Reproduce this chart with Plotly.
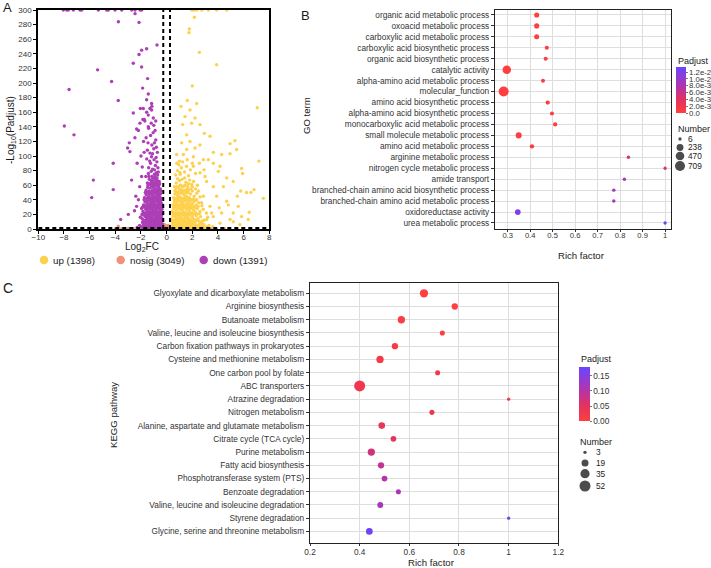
import math
import plotly.graph_objects as go

W, H = 711, 568

# ---------------- Panel A: volcano data ----------------
DOWN_PTS = [
    (-8.05, 300), (-7.79, 300), (-7.66, 300), (-7.27, 300), (-6.75, 300), (-6.62, 300), (-5.32, 300),
    (-4.67, 300), (-4.54, 300), (-4.02, 300), (-3.5, 300), (-2.72, 300), (-2.46, 300), (-2.07, 300),
    (-1.94, 300), (-2.46, 295), (-3.76, 284), (-2.15, 283),
    (-0.75, 252), (-1.56, 247), (-1.95, 245), (-2.15, 239), (-2.6, 227), (-1.95, 222), (-5.38, 218),
    (-1.48, 206), (-4.29, 202), (-1.87, 193), (-7.6, 191), (-1.43, 185), (-1.56, 177), (-3.77, 176),
    (-1.17, 172), (-1.82, 165), (-1.17, 163), (-2.6, 159), (-1.43, 156), (-1.74, 150), (-1.04, 152),
    (-2.08, 145), (-7.97, 141), (-1.43, 140), (-2.34, 137), (-7.22, 129), (-2.47, 125), (-2.91, 118),
    (-3.04, 111), (-2.86, 106), (-4.16, 90), (-5.71, 67), (-2.73, 67), (-4.16, 54), (-5.84, 43),
    (-2.34, 31), (-2.99, 20), (-3.58, 13),
    (-1.95, 3), (-1.8, 6), (-1.7, 2), (-1.62, 8), (-1.55, 4), (-1.48, 9), (-1.4, 2), (-1.33, 6),
    (-1.27, 3), (-1.2, 9), (-1.12, 5), (-1.05, 2), (-0.98, 7), (-0.92, 4), (-0.85, 9), (-0.78, 3),
    (-0.72, 6), (-0.65, 2), (-0.58, 8), (-0.52, 4), (-0.45, 6), (-0.38, 3), (-0.33, 7), (-2.1, 5),
    (-2.3, 2), (-1.88, 9),
    (-1.88, 1), (-1.76, 4), (-1.66, 5), (-1.58, 1), (-1.44, 5), (-1.37, 1), (-1.3, 9), (-1.23, 1),
    (-1.16, 6), (-1.09, 3), (-1.01, 5), (-0.95, 1), (-0.88, 6), (-0.82, 1), (-0.75, 8), (-0.68, 4),
    (-0.62, 1), (-0.55, 6), (-0.48, 1), (-0.42, 4), (-0.36, 1),
    (-1.9, 14), (-1.78, 12), (-1.66, 17), (-1.58, 13), (-1.5, 19), (-1.42, 15), (-1.35, 11),
    (-1.28, 18), (-1.21, 13), (-1.14, 16), (-1.07, 12), (-1.0, 19), (-0.93, 14), (-0.86, 17),
    (-0.79, 11), (-0.72, 15), (-0.66, 19), (-0.59, 13), (-0.53, 16), (-0.47, 12), (-0.41, 18),
    (-0.35, 14), (-2.05, 16),
    (-1.84, 10), (-1.72, 11), (-1.6, 10), (-1.45, 12), (-1.32, 15), (-1.25, 10), (-1.18, 11),
    (-1.1, 14), (-1.03, 10), (-0.96, 12), (-0.89, 10), (-0.82, 14), (-0.76, 12), (-0.69, 10),
    (-0.62, 12), (-0.56, 10), (-0.5, 14), (-0.44, 10), (-0.38, 11),
    (-1.85, 24), (-1.74, 22), (-1.63, 27), (-1.55, 23), (-1.47, 29), (-1.39, 25), (-1.31, 21),
    (-1.24, 28), (-1.16, 24), (-1.09, 26), (-1.02, 22), (-0.95, 29), (-0.88, 25), (-0.81, 21),
    (-0.74, 27), (-0.67, 23), (-0.6, 28), (-0.54, 24), (-0.47, 26), (-0.41, 22), (-0.36, 27),
    (-1.95, 28),
    (-1.92, 20), (-1.8, 19), (-1.7, 20), (-1.6, 20), (-1.52, 16), (-1.44, 21), (-1.37, 18),
    (-1.3, 23), (-1.2, 20), (-1.12, 19), (-1.05, 24), (-0.98, 20), (-0.9, 22), (-0.84, 19),
    (-0.77, 23), (-0.7, 20), (-0.63, 17), (-0.57, 21), (-0.5, 19), (-0.44, 23), (-0.38, 20),
    (-1.8, 33), (-1.68, 37), (-1.58, 31), (-1.5, 35), (-1.42, 39), (-1.34, 32), (-1.26, 36),
    (-1.18, 34), (-1.1, 38), (-1.03, 31), (-0.96, 35), (-0.89, 39), (-0.82, 33), (-0.75, 37),
    (-0.68, 31), (-0.62, 36), (-0.55, 33), (-0.49, 38), (-0.43, 34), (-0.38, 31),
    (-1.88, 30), (-1.76, 30), (-1.65, 32), (-1.54, 27), (-1.45, 32), (-1.37, 29), (-1.29, 33),
    (-1.21, 30), (-1.13, 31), (-1.06, 29), (-0.99, 33), (-0.92, 31), (-0.85, 28), (-0.78, 32),
    (-0.71, 29), (-0.65, 33), (-0.58, 30), (-0.52, 32), (-0.45, 29), (-0.4, 35),
    (-1.72, 43), (-1.6, 47), (-1.5, 41), (-1.4, 45), (-1.3, 49), (-1.22, 43), (-1.14, 47),
    (-1.06, 41), (-0.98, 45), (-0.9, 49), (-0.83, 43), (-0.76, 47), (-0.69, 42), (-0.62, 46),
    (-0.55, 44), (-0.48, 48), (-0.42, 42),
    (-1.76, 40), (-1.65, 42), (-1.55, 38), (-1.46, 43), (-1.37, 40), (-1.27, 42), (-1.18, 39),
    (-1.1, 43), (-1.02, 38), (-0.94, 42), (-0.86, 40), (-0.79, 44), (-0.72, 39), (-0.66, 41),
    (-0.59, 39), (-0.52, 43), (-0.46, 40),
    (-1.6, 53), (-1.48, 57), (-1.38, 52), (-1.28, 56), (-1.19, 59), (-1.1, 53), (-1.02, 57),
    (-0.94, 51), (-0.86, 55), (-0.78, 59), (-0.7, 53), (-0.63, 57), (-0.56, 52), (-0.49, 55),
    (-1.66, 50), (-1.55, 50), (-1.44, 49), (-1.34, 51), (-1.24, 48), (-1.15, 51), (-1.06, 49),
    (-0.98, 52), (-0.9, 50), (-0.82, 52), (-0.74, 50), (-0.66, 50), (-0.6, 49), (-0.52, 50),
    (-0.45, 52),
    (-1.5, 63), (-1.35, 68), (-1.25, 62), (-1.15, 72), (-1.05, 66), (-0.95, 75), (-0.85, 64),
    (-0.75, 70), (-0.65, 78), (-0.58, 65), (-1.42, 76), (-1.2, 79), (-0.9, 69), (-1.0, 62),
    (-0.7, 62), (-1.62, 72), (-1.1, 60), (-0.8, 77),
    (-1.45, 60), (-1.3, 62), (-1.2, 66), (-1.08, 64), (-0.98, 60), (-0.88, 62), (-0.8, 66),
    (-0.72, 66), (-0.62, 60), (-0.55, 62), (-1.38, 72), (-1.1, 70), (-0.92, 72), (-0.7, 74),
    (-1.4, 84), (-1.25, 90), (-1.1, 82), (-0.98, 95), (-0.88, 87), (-0.76, 92), (-0.68, 84),
    (-1.55, 96), (-1.18, 99), (-0.95, 81), (-1.32, 93), (-0.82, 98),
    (-1.5, 108), (-1.3, 104), (-1.15, 115), (-1.0, 110), (-0.85, 122), (-0.72, 105), (-1.6, 125),
    (-1.25, 128), (-0.95, 118), (-1.45, 118), (-0.8, 112), (-1.1, 103),
    (-1.4, 138), (-1.2, 145), (-1.05, 132), (-0.9, 135), (-1.55, 160), (-1.3, 165), (-1.0, 142),
    (-0.85, 148), (-1.7, 148), (-1.15, 168),
    (-2.2, 135), (-2.0, 100), (-1.9, 85), (-1.8, 120), (-2.3, 90), (-1.95, 72), (-2.1, 58),
    (-1.75, 105), (-2.4, 45), (-2.5, 25), (-2.2, 40), (-1.85, 150), (-2.05, 165),
]

UP_PTS = [
    (1.96, 300), (2.14, 300), (2.35, 300), (2.74, 300), (3.25, 300), (3.9, 300), (4.68, 300),
    (2.16, 290), (1.77, 274), (1.74, 269), (2.55, 242), (3.9, 225), (2.0, 196), (1.61, 176),
    (2.34, 172), (1.12, 168), (7.06, 166), (1.82, 163), (1.43, 154), (2.21, 152), (1.95, 145),
    (2.6, 143), (1.25, 143), (1.56, 129), (2.94, 131), (3.38, 127), (5.32, 121), (4.94, 117),
    (1.17, 118), (1.82, 120), (2.6, 115), (2.21, 111), (3.64, 105), (4.94, 103), (4.29, 102),
    (5.45, 109), (7.19, 93), (3.25, 95), (4.16, 86), (2.55, 90), (2.91, 81), (4.03, 79),
    (4.68, 70), (5.84, 83), (5.92, 76), (5.19, 65), (3.64, 58), (3.12, 65), (6.81, 54),
    (6.23, 50), (5.77, 52), (5.51, 45), (7.53, 42), (6.57, 50), (4.68, 38), (4.81, 33),
    (4.1, 29), (5.19, 22), (6.44, 23), (4.94, 13), (3.64, 17), (3.12, 13), (2.73, 8),
    (4.16, 8), (5.19, 10), (5.71, 6), (2.34, 40), (2.86, 45), (3.38, 31), (2.47, 52),
    (3.9, 45), (4.42, 58), (2.99, 72), (2.08, 86), (2.6, 77), (3.64, 90), (1.3, 102),
    (2.08, 99), (1.56, 109), (2.86, 95), (0.78, 102), (1.04, 77), (2.73, 36), (3.51, 22),
    (1.95, 22), (4.29, 22), (1.17, 40), (5.58, 31), (5.84, 17), (6.36, 13),
    (0.35, 4), (0.45, 8), (0.55, 2), (0.65, 6), (0.75, 9), (0.85, 3), (0.95, 7), (1.05, 2),
    (1.15, 8), (1.25, 4), (1.35, 6), (1.45, 2), (1.55, 9), (1.65, 5), (1.75, 3), (1.85, 7),
    (1.95, 4), (2.05, 8), (2.15, 2), (2.3, 6), (2.45, 3), (2.6, 7), (2.8, 4), (3.0, 2),
    (3.3, 5), (3.6, 3), (0.5, 5), (0.9, 5), (1.3, 1.5), (1.7, 8),
    (0.4, 1), (0.5, 2), (0.6, 5), (0.7, 1), (0.8, 6), (0.9, 1), (1.0, 4), (1.1, 6), (1.2, 1),
    (1.3, 7), (1.4, 4), (1.5, 5), (1.6, 2), (1.7, 5), (1.8, 1), (1.9, 5), (2.0, 2), (2.1, 5),
    (2.22, 4), (2.38, 1), (2.52, 5), (2.7, 2), (2.9, 6), (3.15, 3),
    (0.4, 14), (0.5, 18), (0.6, 12), (0.7, 16), (0.8, 19), (0.9, 13), (1.0, 17), (1.1, 11),
    (1.2, 15), (1.3, 19), (1.4, 13), (1.5, 17), (1.6, 11), (1.7, 15), (1.8, 19), (1.9, 12),
    (2.0, 16), (2.15, 13), (2.3, 18), (2.45, 14), (2.65, 17), (2.9, 12), (3.2, 16),
    (0.45, 11), (0.55, 10), (0.65, 12), (0.75, 10), (0.85, 14), (0.95, 10), (1.05, 13),
    (1.15, 10), (1.25, 12), (1.35, 10), (1.45, 15), (1.55, 10), (1.65, 13), (1.75, 10),
    (1.85, 12), (1.95, 10), (2.08, 11), (2.22, 10), (2.38, 12), (2.55, 10), (2.78, 11),
    (0.45, 24), (0.55, 28), (0.65, 22), (0.75, 26), (0.85, 29), (0.95, 23), (1.05, 27),
    (1.15, 21), (1.25, 25), (1.35, 29), (1.45, 23), (1.55, 27), (1.65, 21), (1.75, 25),
    (1.85, 28), (1.95, 22), (2.1, 26), (2.25, 23), (2.4, 28), (2.6, 24), (2.85, 27), (3.1, 22),
    (0.5, 21), (0.6, 20), (0.7, 22), (0.8, 20), (0.9, 20), (1.0, 22), (1.1, 19), (1.2, 21),
    (1.3, 22), (1.4, 20), (1.5, 21), (1.6, 19), (1.7, 22), (1.8, 20), (1.9, 21), (2.05, 20),
    (2.2, 21), (2.35, 20), (2.55, 21),
    (0.5, 33), (0.6, 37), (0.7, 31), (0.8, 35), (0.9, 39), (1.0, 33), (1.1, 37), (1.2, 31),
    (1.3, 35), (1.4, 39), (1.5, 32), (1.6, 36), (1.7, 34), (1.8, 38), (1.9, 31), (2.0, 35),
    (2.15, 38), (2.3, 33), (2.5, 36), (2.75, 32),
    (0.55, 30), (0.65, 33), (0.75, 30), (0.85, 32), (0.95, 30), (1.05, 31), (1.15, 33),
    (1.25, 29), (1.35, 31), (1.45, 30), (1.55, 33), (1.65, 29), (1.75, 30), (1.85, 33),
    (1.95, 29), (2.1, 31), (2.25, 29), (2.45, 31),
    (0.55, 43), (0.65, 48), (0.75, 42), (0.85, 46), (0.95, 51), (1.05, 44), (1.15, 49),
    (1.25, 42), (1.35, 47), (1.45, 53), (1.55, 45), (1.65, 50), (1.75, 43), (1.85, 48),
    (2.0, 52), (2.15, 45), (2.35, 49), (2.6, 44), (0.7, 54), (1.2, 54),
    (0.6, 40), (0.7, 38), (0.8, 41), (0.9, 43), (1.0, 40), (1.1, 42), (1.2, 39), (1.3, 41),
    (1.4, 43), (1.5, 40), (1.6, 42), (1.7, 39), (1.8, 41), (1.95, 40), (2.1, 41), (2.25, 39),
    (0.6, 58), (0.75, 63), (0.9, 57), (1.0, 66), (1.1, 60), (1.2, 68), (1.35, 59), (1.5, 64),
    (1.65, 58), (1.8, 67), (1.95, 61), (2.1, 65), (2.4, 60), (0.85, 69), (1.4, 70),
    (0.65, 52), (0.8, 50), (0.9, 48), (1.0, 55), (1.1, 51), (1.3, 51), (1.5, 50), (1.6, 55),
    (1.7, 53), (1.9, 55), (2.25, 55), (0.8, 58), (1.05, 60), (1.25, 58), (1.45, 60), (1.7, 62),
    (2.0, 58),
    (0.7, 74), (0.85, 80), (0.95, 88), (1.05, 75), (1.15, 84), (1.25, 92), (1.4, 78),
    (1.55, 86), (1.7, 73), (1.85, 81), (2.0, 90), (2.25, 76), (1.0, 93), (0.8, 90), (1.6, 95),
]

NOSIG_PTS = [
    (-0.2, 0.8), (-0.1, 0.5), (0.0, 1.0), (0.1, 0.6), (0.2, 0.9), (-0.25, 2.5), (0.15, 3.0),
    (-0.05, 4.0), (0.05, 2.0), (-3.5, 0.5), (-3.0, 0.8), (-2.6, 0.3), (-2.2, 0.6), (-1.5, 1.0),
    (1.2, 0.8), (2.5, 0.6), (3.5, 0.9), (-0.15, 6.0), (0.12, 5.0), (-4.0, 0.4), (4.5, 0.5),
    (-3.77, 4.0),
]

VOLCANO_GROUPS = ["up (1398)", "nosig (3049)", "down (1391)"]
FC_THRESH = 0.263
P_THRESH = 1.3
A_XTICKS = list(range(-10, 9, 2))
A_YTICKS = list(range(0, 301, 20))

# ---------------- Panel B: GO enrichment ----------------
GO_TERMS = [
    "organic acid metabolic process", "oxoacid metabolic process",
    "carboxylic acid metabolic process", "carboxylic acid biosynthetic process",
    "organic acid biosynthetic process", "catalytic activity",
    "alpha-amino acid metabolic process", "molecular_function",
    "amino acid biosynthetic process", "alpha-amino acid biosynthetic process",
    "monocarboxylic acid metabolic process", "small molecule metabolic process",
    "amino acid metabolic process", "arginine metabolic process",
    "nitrogen cycle metabolic process", "amide transport",
    "branched-chain amino acid biosynthetic process",
    "branched-chain amino acid metabolic process", "oxidoreductase activity",
    "urea metabolic process",
]
GO_RICH = [0.429, 0.429, 0.429, 0.474, 0.469, 0.296, 0.457, 0.282, 0.478, 0.497,
           0.511, 0.349, 0.408, 0.837, 1.0, 0.819, 0.772, 0.772, 0.345, 1.0]
GO_PADJ = [0.00001, 0.00001, 0.00002, 0.0001, 0.0001, 0.0001, 0.0002, 0.0001, 0.0002, 0.0003,
           0.0004, 0.0004, 0.0005, 0.0045, 0.0045, 0.0085, 0.0088, 0.0088, 0.0118, 0.0128]
GO_NUM = [80, 80, 76, 28, 28, 450, 25, 709, 36, 28, 36, 150, 40, 9, 6, 9, 9, 9, 123, 6]
GO_SIZE_BREAKS = [6, 238, 470, 709]
GO_CB_TICKS = [0, 0.002, 0.004, 0.006, 0.008, 0.010, 0.012]
GO_CB_TEXT = ["0.0", "2.0e-3", "4.0e-3", "6.0e-3", "8.0e-3", "1.0e-2", "1.2e-2"]
GO_XTICKS = [0.3, 0.4, 0.5, 0.6, 0.7, 0.8, 0.9, 1.0]
GO_XTEXT = ["0.3", "0.4", "0.5", "0.6", "0.7", "0.8", "0.9", "1"]

# ---------------- Panel C: KEGG enrichment ----------------
KEGG_PATHS = [
    "Glyoxylate and dicarboxylate metabolism", "Arginine biosynthesis",
    "Butanoate metabolism", "Valine, leucine and isoleucine biosynthesis",
    "Carbon fixation pathways in prokaryotes", "Cysteine and methionine metabolism",
    "One carbon pool by folate", "ABC transporters", "Atrazine degradation",
    "Nitrogen metabolism", "Alanine, aspartate and glutamate metabolism",
    "Citrate cycle (TCA cycle)", "Purine metabolism", "Fatty acid biosynthesis",
    "Phosphotransferase system (PTS)", "Benzoate degradation",
    "Valine, leucine and isoleucine degradation", "Styrene degradation",
    "Glycine, serine and threonine metabolism",
]
KEGG_RICH = [0.659, 0.783, 0.568, 0.733, 0.542, 0.482, 0.714, 0.40, 1.0, 0.691,
             0.489, 0.536, 0.447, 0.486, 0.50, 0.556, 0.483, 1.0, 0.439]
KEGG_PADJ = [0.0005, 0.002, 0.004, 0.006, 0.012, 0.016, 0.02, 0.028, 0.03, 0.033,
             0.04, 0.045, 0.07, 0.085, 0.1, 0.11, 0.115, 0.165, 0.17]
KEGG_NUM = [28, 15, 21, 9, 15, 21, 9, 52, 3, 9, 17, 12, 21, 15, 12, 9, 13, 3, 17]
KEGG_SIZE_BREAKS = [3, 19, 35, 52]
KEGG_CB_TICKS = [0, 0.05, 0.10, 0.15]
KEGG_CB_TEXT = ["0.00", "0.05", "0.10", "0.15"]
KEGG_XTICKS = [0.2, 0.4, 0.6, 0.8, 1.0, 1.2]
KEGG_XTEXT = ["0.2", "0.4", "0.6", "0.8", "1", "1.2"]

# ---------------- styles ----------------
FONT = "Liberation Sans, Arial, sans-serif"
C_UP, C_NOSIG, C_DOWN = "#FDD14E", "#F2917A", "#AC3FB6"
PADJ_SCALE = [[0.0, "#FF3E3E"], [0.3, "#E03360"], [0.55, "#B734A6"], [0.8, "#8C3DDA"], [1.0, "#6845FF"]]
GRID = "#DEDEDE"


def px_x(p):
    return p / W


def px_y(p):
    return 1 - p / H


def go_size(n):
    return 2.62 + 0.277 * math.sqrt(n)


def kegg_size(n):
    return 0.87 + 1.405 * math.sqrt(n)


fig = go.Figure()

# Panel A traces
for pts, col in [(NOSIG_PTS, C_NOSIG), (UP_PTS, C_UP), (DOWN_PTS, C_DOWN)]:
    fig.add_trace(go.Scatter(
        x=[p[0] for p in pts], y=[p[1] for p in pts], mode="markers",
        marker=dict(color=col, size=3.4, line=dict(width=0)),
        xaxis="x", yaxis="y", showlegend=False, hoverinfo="skip"))

# Panel B
fig.add_trace(go.Scatter(
    x=GO_RICH, y=list(range(len(GO_TERMS))), mode="markers",
    marker=dict(color=GO_PADJ, coloraxis="coloraxis", size=[go_size(n) for n in GO_NUM],
                line=dict(width=0), opacity=1),
    xaxis="x2", yaxis="y2", showlegend=False, hoverinfo="skip"))

# Panel C
fig.add_trace(go.Scatter(
    x=KEGG_RICH, y=list(range(len(KEGG_PATHS))), mode="markers",
    marker=dict(color=KEGG_PADJ, coloraxis="coloraxis2", size=[kegg_size(n) for n in KEGG_NUM],
                line=dict(width=0), opacity=1),
    xaxis="x3", yaxis="y3", showlegend=False, hoverinfo="skip"))

# Legend keys drawn on a pixel helper axis
LEG_A_X = [44, 120.7, 203.7]
LEG_A_TX = [50.7, 127.7, 210.7]
LEG_A_Y = 260
fig.add_trace(go.Scatter(
    x=LEG_A_X, y=[LEG_A_Y] * 3, mode="markers",
    marker=dict(color=[C_UP, C_NOSIG, C_DOWN], size=8.5, line=dict(width=0)),
    xaxis="x4", yaxis="y4", showlegend=False, hoverinfo="skip"))

GO_LEG_Y = [139, 147.5, 156, 166]
fig.add_trace(go.Scatter(
    x=[680] * 4, y=GO_LEG_Y, mode="markers",
    marker=dict(color="black", size=[go_size(n) for n in GO_SIZE_BREAKS], line=dict(width=0)),
    xaxis="x4", yaxis="y4", showlegend=False, hoverinfo="skip"))

KEGG_LEG_Y = [452.3, 463, 473.7, 486]
fig.add_trace(go.Scatter(
    x=[585] * 4, y=KEGG_LEG_Y, mode="markers",
    marker=dict(color="black", size=[kegg_size(n) for n in KEGG_SIZE_BREAKS], line=dict(width=0)),
    xaxis="x4", yaxis="y4", showlegend=False, hoverinfo="skip"))

ann = []


def text(x, y, s, size=9, anchor="left", rot=0, color="#1a1a1a", yanchor="middle"):
    ann.append(dict(x=px_x(x), y=px_y(y), xref="paper", yref="paper", text=s, showarrow=False,
                    xanchor=anchor, yanchor=yanchor, textangle=rot,
                    font=dict(family=FONT, size=size, color=color)))


# panel letters
text(1, 8, "A", 13)
text(299, 15, "B", 13)
text(1, 288, "C", 14)

# axis titles
text(11, 130, "-Log<sub>10</sub>(Padjust)", 10, "center", -90)
text(142, 247, "Log<sub>2</sub>FC", 10, "center")
text(307, 116, "GO term", 9.6, "center", -90)
text(581, 255, "Rich factor", 9.6, "center")
text(113, 415, "KEGG pathway", 9.6, "center", -90)
text(431, 562.5, "Rich factor", 9.6, "center")

# legends text
for tx, s in zip(LEG_A_TX, VOLCANO_GROUPS):
    text(tx, LEG_A_Y, s, 9.8)
text(675.5, 61, "Padjust", 9)
text(675.5, 128.5, "Number", 9)
for yy, s in zip(GO_LEG_Y, GO_SIZE_BREAKS):
    text(686, yy, str(s), 8.3)
text(579, 359, "Padjust", 9)
text(578, 442, "Number", 9)
for yy, s in zip(KEGG_LEG_Y, KEGG_SIZE_BREAKS):
    text(593.5, yy, str(s), 8.3)

shapes = []
for xv in (-FC_THRESH, FC_THRESH):
    shapes.append(dict(type="line", xref="x", yref="y", x0=xv, x1=xv, y0=0, y1=300,
                       line=dict(color="black", width=2, dash="4px,3px")))
shapes.append(dict(type="line", xref="x", yref="y", x0=-10, x1=8, y0=P_THRESH, y1=P_THRESH,
                   line=dict(color="black", width=2, dash="4px,3px")))

tickfont_a = dict(family=FONT, size=8, color="#333")
tickfont_b = dict(family=FONT, size=8.3, color="#333")

fig.update_layout(
    width=W, height=H, autosize=False,
    margin=dict(l=0, r=0, t=0, b=0),
    paper_bgcolor="white", plot_bgcolor="rgba(0,0,0,0)",
    font=dict(family=FONT, color="#1a1a1a"),
    showlegend=False,
    annotations=ann, shapes=shapes,
    xaxis=dict(domain=[px_x(38.3), px_x(269.3)], range=[-10, 8], tickvals=A_XTICKS,
               showgrid=False, zeroline=False, showline=True, linecolor="black", linewidth=2,
               mirror=True, ticks="outside", ticklen=3, tickwidth=1, tickcolor="black",
               tickfont=tickfont_a, anchor="y", automargin=False, ticklabelstandoff=-4),
    yaxis=dict(domain=[px_y(229), px_y(10)], range=[0, 300], tickvals=A_YTICKS,
               showgrid=False, zeroline=False, showline=True, linecolor="black", linewidth=2,
               mirror=True, ticks="outside", ticklen=3, tickwidth=1, tickcolor="black",
               tickfont=tickfont_a, anchor="x", automargin=False),
    xaxis2=dict(domain=[px_x(495), px_x(670.7)], range=[0.2436, 1.025], tickvals=GO_XTICKS,
                ticktext=GO_XTEXT, showgrid=True, gridcolor=GRID, gridwidth=1, zeroline=False,
                showline=True, linecolor="#222", linewidth=1.3, mirror=True, ticks="outside",
                ticklen=2, tickcolor="#333", tickfont=dict(family=FONT, size=7.6, color="#333"),
                anchor="y2", automargin=False, ticklabelstandoff=-3),
    yaxis2=dict(domain=[px_y(229), px_y(10)], range=[19.55, -0.45],
                tickvals=list(range(len(GO_TERMS))), ticktext=GO_TERMS,
                showgrid=True, gridcolor=GRID, gridwidth=1, zeroline=False,
                showline=True, linecolor="#222", linewidth=1.3, mirror=True, ticks="outside",
                ticklen=3, tickcolor="#333", tickfont=tickfont_b, anchor="x2", automargin=False),
    xaxis3=dict(domain=[px_x(310), px_x(558.3)], range=[0.2, 1.2], tickvals=KEGG_XTICKS,
                ticktext=KEGG_XTEXT, showgrid=True, gridcolor=GRID, gridwidth=1, zeroline=False,
                showline=True, linecolor="#222", linewidth=1.3, mirror=True, ticks="outside",
                ticklen=2, tickcolor="#333", tickfont=tickfont_b, anchor="y3", automargin=False,
                ticklabelstandoff=-1),
    yaxis3=dict(domain=[px_y(542.7), px_y(282.7)], range=[18.85, -0.8],
                tickvals=list(range(len(KEGG_PATHS))), ticktext=KEGG_PATHS,
                showgrid=True, gridcolor=GRID, gridwidth=1, zeroline=False,
                showline=True, linecolor="#222", linewidth=1.3, mirror=True, ticks="outside",
                ticklen=3, tickcolor="#333", tickfont=tickfont_b, anchor="x3", automargin=False),
    xaxis4=dict(domain=[0, 1], range=[0, W], visible=False, anchor="y4", fixedrange=True),
    yaxis4=dict(domain=[0, 1], range=[H, 0], visible=False, anchor="x4", fixedrange=True),
    coloraxis=dict(colorscale=PADJ_SCALE, cmin=0, cmax=0.0135,
                   colorbar=dict(x=px_x(675.7), xanchor="left", y=px_y(67), yanchor="top",
                                 len=45.7 / H, lenmode="fraction", thickness=10,
                                 thicknessmode="pixels", outlinewidth=0, xpad=0, ypad=0,
                                 tickvals=GO_CB_TICKS, ticktext=GO_CB_TEXT, ticks="outside",
                                 ticklen=2, tickcolor="#777",
                                 tickfont=dict(family=FONT, size=7.8, color="#333"))),
    coloraxis2=dict(colorscale=PADJ_SCALE, cmin=0, cmax=0.178,
                    colorbar=dict(x=px_x(579.3), xanchor="left", y=px_y(367.3), yanchor="top",
                                  len=54.4 / H, lenmode="fraction", thickness=10.7,
                                  thicknessmode="pixels", outlinewidth=0, xpad=0, ypad=0,
                                  tickvals=KEGG_CB_TICKS, ticktext=KEGG_CB_TEXT, ticks="outside",
                                  ticklen=2, tickcolor="#777",
                                  tickfont=dict(family=FONT, size=8.3, color="#333"))),
)

fig.write_html("out.html")
